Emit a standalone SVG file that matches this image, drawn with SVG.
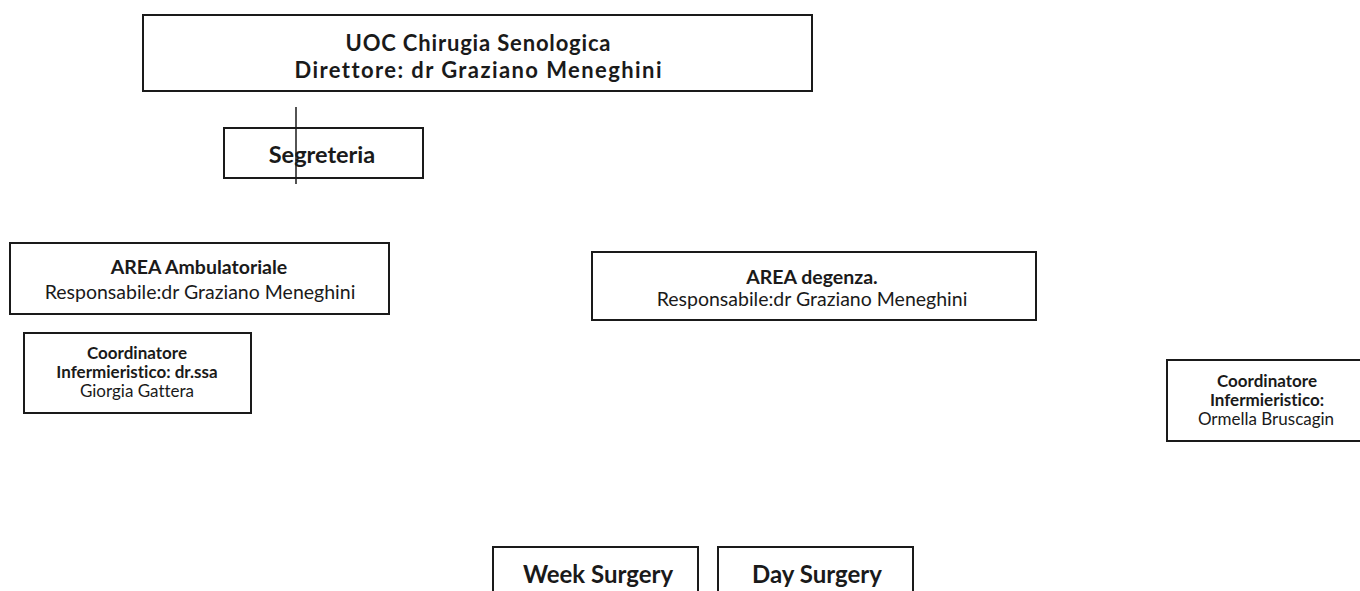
<svg xmlns="http://www.w3.org/2000/svg" width="1360" height="591" viewBox="0 0 1360 591">
<style>
.box{fill:#fff;stroke:#1a1a1a;stroke-width:2}
text{font-family:Lato,"Open Sans","Liberation Sans",sans-serif;fill:#1a1a1a;text-anchor:middle;font-variant-ligatures:none}
.b{font-weight:bold}
.t1{font-size:22px}
.t2{font-size:19.5px}
.t3{font-size:17px}
.conn{stroke:#1a1a1a;stroke-width:1.5;fill:none}
</style>
<rect width="1360" height="591" fill="#fff"/>
<g id="uoc">
<rect class="box" x="143" y="15" width="669" height="76"/>
<text class="b t1" x="478" y="51" textLength="265" lengthAdjust="spacing">UOC Chirugia Senologica</text>
<text class="b t1" x="478" y="78" textLength="367" lengthAdjust="spacing">Direttore: dr Graziano Meneghini</text>
</g>
<g id="segreteria">
<rect class="box" x="224" y="128" width="199" height="50"/>
<text class="b" x="322" y="163" font-size="23.5">Segreteria</text>
</g>
<g id="area-ambulatoriale">
<rect class="box" x="10" y="243" width="379" height="71"/>
<text class="b t2" x="199" y="274">AREA Ambulatoriale</text>
<text class="t2" x="200" y="299">Responsabile:dr Graziano Meneghini</text>
</g>
<g id="coord-amb">
<rect class="box" x="24" y="333" width="227" height="80"/>
<text class="b t3" x="137" y="359">Coordinatore</text>
<text class="b t3" x="137" y="378">Infermieristico: dr.ssa</text>
<text class="t3" x="137" y="397">Giorgia Gattera</text>
</g>
<g id="area-degenza">
<rect class="box" x="592" y="252" width="444" height="68"/>
<text class="b t2" x="812" y="284">AREA degenza.</text>
<text class="t2" x="812" y="306">Responsabile:dr Graziano Meneghini</text>
</g>
<g id="coord-deg">
<rect class="box" x="1167" y="360" width="200" height="81"/>
<text class="b t3" x="1267" y="387">Coordinatore</text>
<text class="b t3" x="1267" y="406">Infermieristico:</text>
<text class="t3" x="1266" y="425">Ormella Bruscagin</text>
</g>
<g id="week-surgery">
<rect class="box" x="493" y="547" width="205" height="60"/>
<text class="b" x="598" y="583" font-size="24">Week Surgery</text>
</g>
<g id="day-surgery">
<rect class="box" x="718" y="547" width="195" height="60"/>
<text class="b" x="817" y="583" font-size="24">Day Surgery</text>
</g>
<g id="connectors">
<line class="conn" x1="296" y1="107" x2="296" y2="184"/>
</g>
</svg>
